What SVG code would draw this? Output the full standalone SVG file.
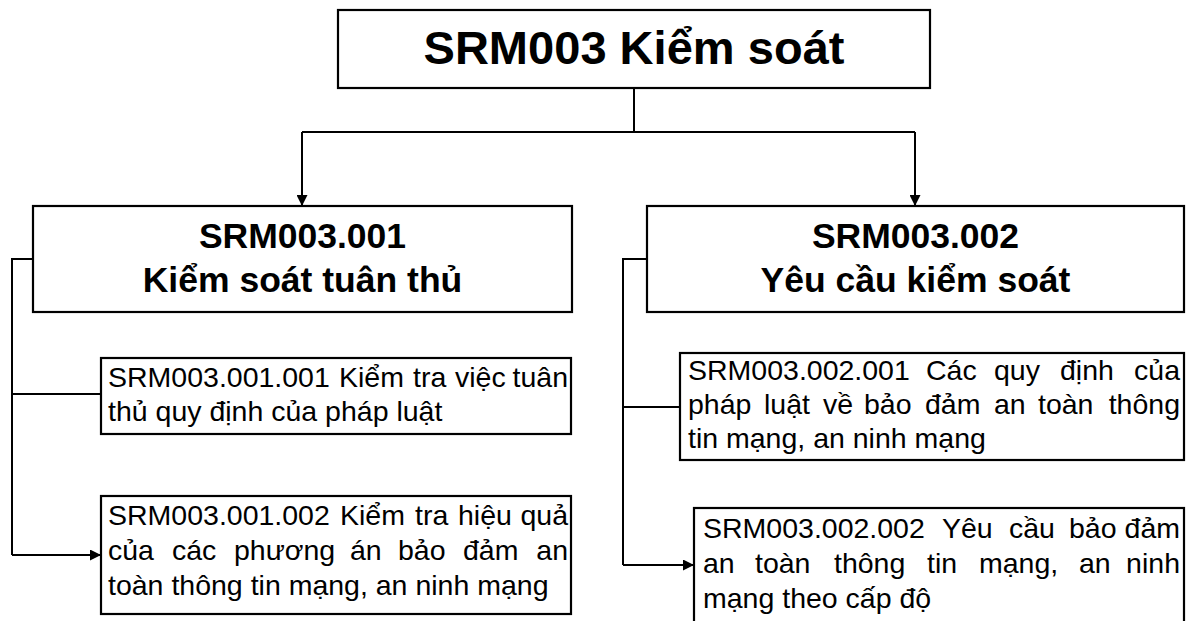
<svg xmlns="http://www.w3.org/2000/svg" width="1187" height="621" viewBox="0 0 1187 621">
<style>
.box{fill:#fff;stroke:#000;stroke-width:2.2}
.ln{fill:none;stroke:#000;stroke-width:2}
.t0{font-family:"Liberation Sans",Arial,sans-serif;font-weight:bold;font-size:46px;fill:#000}
.t1{font-family:"Liberation Sans",Arial,sans-serif;font-weight:bold;font-size:35.5px;fill:#000}
.t2{font-family:"Liberation Sans",Arial,sans-serif;font-size:28.5px;fill:#000}
.e{text-anchor:end}
</style>
<defs>
<marker id="ah" viewBox="0 0 10 10" refX="10" refY="5" markerWidth="13" markerHeight="11" markerUnits="userSpaceOnUse" orient="auto">
<path d="M0,0 L10,5 L0,10 z" fill="#000"/>
</marker>
</defs>
<rect width="1187" height="621" fill="#fff"/>
<g id="connectors">
<path class="ln" d="M634,88 V132"/>
<path class="ln" d="M302,132 H915"/>
<path class="ln" d="M302,132 V206" marker-end="url(#ah)"/>
<path class="ln" d="M915,132 V206" marker-end="url(#ah)"/>
<path class="ln" d="M33,259 H12 V555"/>
<path class="ln" d="M12,394 H101"/>
<path class="ln" d="M12,555 H101" marker-end="url(#ah)"/>
<path class="ln" d="M647,259 H623 V565"/>
<path class="ln" d="M623,407 H680"/>
<path class="ln" d="M623,565 H694" marker-end="url(#ah)"/>
</g>
<g id="n0">
<rect class="box" x="338" y="10" width="592" height="78"/>
<text class="t0" x="634" y="64" text-anchor="middle" textLength="421" lengthAdjust="spacingAndGlyphs">SRM003 Kiểm soát</text>
</g>
<g id="n1">
<rect class="box" x="33" y="206" width="539" height="106"/>
<text class="t1" x="302.5" y="248" text-anchor="middle">SRM003.001</text>
<text class="t1" x="302.5" y="292" text-anchor="middle">Kiểm soát tuân thủ</text>
</g>
<g id="n2">
<rect class="box" x="647" y="206" width="537" height="106"/>
<text class="t1" x="915.5" y="248" text-anchor="middle">SRM003.002</text>
<text class="t1" x="915.5" y="292" text-anchor="middle">Yêu cầu kiểm soát</text>
</g>
<g id="n11">
<rect class="box" x="101" y="358" width="470" height="76"/>
<text class="t2" y="387"><tspan x="108">SRM003.001.001</tspan><tspan x="339">Kiểm</tspan><tspan x="413">tra</tspan><tspan x="455">việc</tspan></text>
<text class="t2 e" x="568" y="387">tuân</text>
<text class="t2" x="108" y="421">thủ quy định của pháp luật</text>
</g>
<g id="n12">
<rect class="box" x="101" y="496" width="470" height="118"/>
<text class="t2" y="525"><tspan x="108">SRM003.001.002</tspan><tspan x="340">Kiểm</tspan><tspan x="415">tra</tspan><tspan x="458">hiệu</tspan></text>
<text class="t2 e" x="568" y="525">quả</text>
<text class="t2" y="560"><tspan x="108">của</tspan><tspan x="172">các</tspan><tspan x="234">phương</tspan><tspan x="350">án</tspan><tspan x="398">bảo</tspan><tspan x="463">đảm</tspan></text>
<text class="t2 e" x="568" y="560">an</text>
<text class="t2" x="108" y="595">toàn thông tin mạng, an ninh mạng</text>
</g>
<g id="n21">
<rect class="box" x="680" y="353" width="504" height="107"/>
<text class="t2" y="380"><tspan x="688">SRM003.002.001</tspan><tspan x="926">Các</tspan><tspan x="994">quy</tspan><tspan x="1060">định</tspan></text>
<text class="t2 e" x="1180" y="380">của</text>
<text class="t2" y="414"><tspan x="688">pháp</tspan><tspan x="764">luật</tspan><tspan x="823">về</tspan><tspan x="864">bảo</tspan><tspan x="925">đảm</tspan><tspan x="994">an</tspan><tspan x="1038">toàn</tspan></text>
<text class="t2 e" x="1180" y="414">thông</text>
<text class="t2" x="688" y="448">tin mạng, an ninh mạng</text>
</g>
<g id="n22">
<rect class="box" x="694" y="508" width="490" height="130"/>
<text class="t2" y="538"><tspan x="703">SRM003.002.002</tspan><tspan x="942">Yêu</tspan><tspan x="1009">cầu</tspan><tspan x="1069">bảo</tspan></text>
<text class="t2 e" x="1180" y="538">đảm</text>
<text class="t2" y="573"><tspan x="703">an</tspan><tspan x="755">toàn</tspan><tspan x="834">thông</tspan><tspan x="927">tin</tspan><tspan x="979">mạng,</tspan><tspan x="1079">an</tspan></text>
<text class="t2 e" x="1180" y="573">ninh</text>
<text class="t2" x="703" y="608">mạng theo cấp độ</text>
</g>
</svg>
